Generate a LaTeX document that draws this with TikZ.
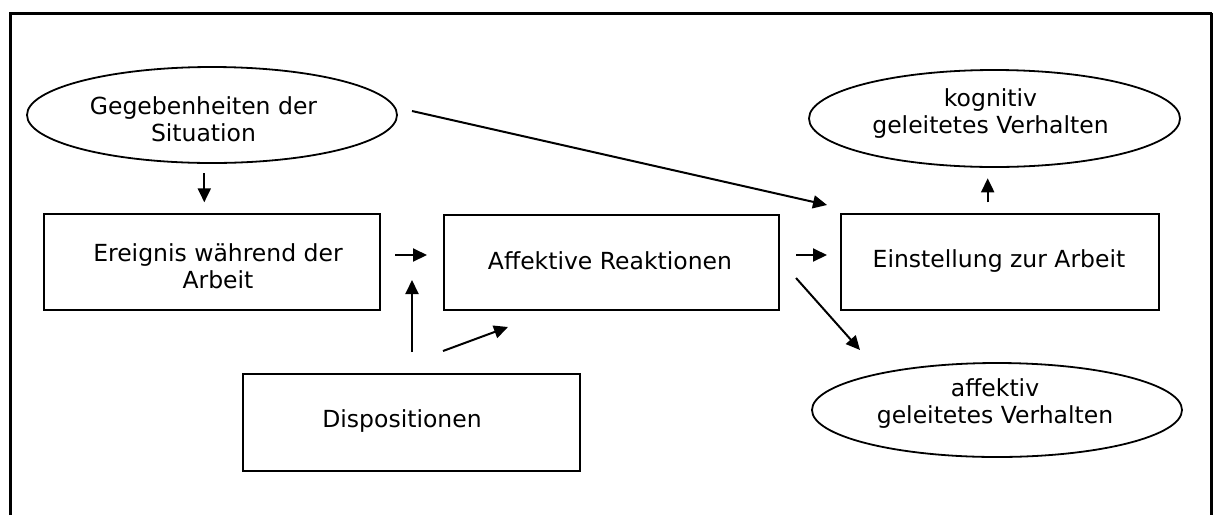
\documentclass[tikz,border=0pt]{standalone}
\usepackage{fontspec}
\setmainfont{DejaVu Sans}
\usetikzlibrary{shapes.geometric,arrows.meta}

\begin{document}
\begin{tikzpicture}[x=1pt,y=-1pt,
  box/.style={draw,line width=2pt,inner sep=0pt,rectangle},
  oval/.style={draw,line width=1.8pt,inner sep=0pt,ellipse},
  txt/.style={font=\fontsize{23.5}{27}\selectfont,align=center,inner sep=0pt},
  arr/.style={line width=2pt,-{Triangle[length=14pt,width=13pt]}},
  frame/.style={line width=3pt}]

\useasboundingbox (0,0) rectangle (1214,515);

% open frame
\draw[frame] (10.7,515) -- (10.7,13.5) -- (1211.5,13.5);
\draw[line width=2.5pt] (1211.5,12.5) -- (1211.5,515);

% ovals
\node[oval,minimum width=370pt,minimum height=96pt] (sit) at (212,115) {};
\node[oval,minimum width=371pt,minimum height=97pt] (kog) at (994.5,118.5) {};
\node[oval,minimum width=370pt,minimum height=94pt] (aff) at (997,410) {};

% boxes
\node[box,minimum width=336pt,minimum height=96pt] (ereig) at (212,262) {};
\node[box,minimum width=335pt,minimum height=95pt] (reakt) at (611.5,262.5) {};
\node[box,minimum width=318pt,minimum height=96pt] (einst) at (1000,262) {};
\node[box,minimum width=337pt,minimum height=97pt] (dispo) at (411.5,422.5) {};

% labels
\node[txt] (tsit) at (203.5,119.4) {Gegebenheiten der\\Situation};
\node[txt] (tkog) at (990.5,113.5) {kognitiv\\geleitetes Verhalten};
\node[txt] (taff) at (995,403.3) {affektiv\\geleitetes Verhalten};
\node[txt] (tereig) at (218,266) {Ereignis während der\\Arbeit};
\node[txt,anchor=base] (treakt) at (610,269) {Affektive Reaktionen};
\node[txt,anchor=base] (teinst) at (999,267) {Einstellung zur Arbeit};
\node[txt,anchor=base] (tdispo) at (402,427) {Dispositionen};

% arrow ends
\coordinate (a1s) at (204.3,173);   \coordinate (a1e) at (204.3,202.3);
\coordinate (a2s) at (395,255);     \coordinate (a2e) at (427,255);
\coordinate (a3s) at (412,352);     \coordinate (a3e) at (412,280);
\coordinate (a4s) at (443,351);     \coordinate (a4e) at (508,327);
\coordinate (a5s) at (412,111);     \coordinate (a5e) at (827,205);
\coordinate (a6s) at (796,255);     \coordinate (a6e) at (827,255);
\coordinate (a7s) at (796,278);     \coordinate (a7e) at (860,350);
\coordinate (a8s) at (987.7,202.3); \coordinate (a8e) at (987.7,178.3);

% connectors
\draw[arr] (a1s) -- (a1e);
\draw[arr] (a2s) -- (a2e);
\draw[arr] (a3s) -- (a3e);
\draw[arr] (a4s) -- (a4e);
\draw[arr] (a5s) -- (a5e);
\draw[arr] (a6s) -- (a6e);
\draw[arr] (a7s) -- (a7e);
\draw[arr] (a8s) -- (a8e);
\end{tikzpicture}
\end{document}
